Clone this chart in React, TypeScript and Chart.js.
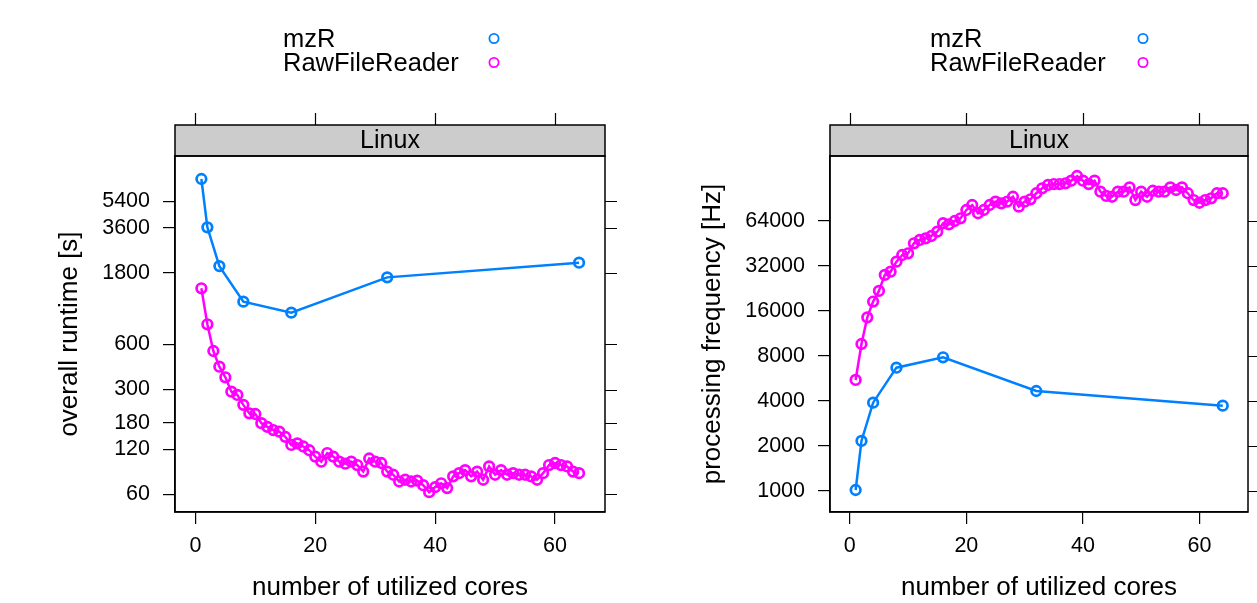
import React, { useEffect, useRef } from "react";
import { Chart, registerables } from "chart.js";

Chart.register(...registerables);

// ---------- data ----------
const seriesNames = ["mzR", "RawFileReader"];
const seriesColors = ["#0080ff", "#ff00ff"];
const stripLabel = "Linux";
const xTitle = "number of utilized cores";

const mzrCores = [1, 2, 4, 8, 16, 32, 64];
const mzrRuntime = [7615, 3624, 1998, 1157, 977, 1680, 2105];
const mzrFreq = [1015, 2160, 3896, 6680, 7840, 4665, 3720];

const rfrCores = [
  1, 2, 3, 4, 5, 6, 7, 8, 9, 10, 11, 12, 13, 14, 15, 16,
  17, 18, 19, 20, 21, 22, 23, 24, 25, 26, 27, 28, 29, 30, 31, 32,
  33, 34, 35, 36, 37, 38, 39, 40, 41, 42, 43, 44, 45, 46, 47, 48,
  49, 50, 51, 52, 53, 54, 55, 56, 57, 58, 59, 60, 61, 62, 63, 64,
];
const rfrRuntime = [
  1420, 817, 542, 426, 362, 290, 276, 237, 208, 206, 179, 169, 161, 157, 145, 128,
  131, 125, 118, 107, 99, 113, 107, 99, 96, 99, 94, 85, 104, 99, 97, 85,
  81, 73, 75, 73, 74, 69, 62, 67, 71, 66, 79, 83, 87, 79, 85, 75,
  92, 81, 87, 81, 83, 81, 81, 79, 75, 83, 94, 97, 94, 92, 85, 83,
];
const rfrFreq = [
  5530, 9620, 14500, 18500, 21800, 27900, 29300, 34200, 37900, 38900, 45400, 47800, 49000, 50800, 54300, 61800,
  60800, 64000, 66700, 75800, 81900, 72100, 75800, 81900, 86200, 84000, 86200, 93000, 79800, 86200, 89400, 98100,
  105900, 111400, 113100, 113100, 114400, 119100, 128000, 119100, 113100, 119100, 100500, 94100, 93000, 100500, 100500, 107500,
  88400, 100500, 93000, 102000, 100500, 100500, 107500, 103200, 107500, 98100, 88400, 84800, 88400, 90800, 98100, 98100,
];

const coreTicks = [0, 20, 40, 60];
const runtimeTicks = [60, 120, 180, 300, 600, 1800, 3600, 5400];
const freqTicks = [1000, 2000, 4000, 8000, 16000, 32000, 64000];

// ---------- layout ----------
const H = 603;
const FONT = "'Liberation Sans', Arial, Helvetica, sans-serif";
Chart.defaults.font.family = FONT;
Chart.defaults.color = "#000";

type PanelCfg = {
  left: number;
  width: number;
  yTitle: string;
  yMin: number;
  yMax: number;
  yTicks: number[];
  mzr: number[];
  rfr: number[];
  axisWidth: number;
  padRight: number;
  yTitlePad: number;
  legendTextX: number;
  legendCircleX: number;
};

const panels: PanelCfg[] = [
  {
    left: 0,
    width: 628,
    yTitle: "overall runtime [s]",
    yMin: 45.7,
    yMax: 10842,
    yTicks: runtimeTicks,
    mzr: mzrRuntime,
    rfr: rfrRuntime,
    axisWidth: 175,
    padRight: 23,
    yTitlePad: 54,
    legendTextX: 283,
    legendCircleX: 494,
  },
  {
    left: 628,
    width: 629,
    yTitle: "processing frequency [Hz]",
    yMin: 723,
    yMax: 174200,
    yTicks: freqTicks,
    mzr: mzrFreq,
    rfr: rfrFreq,
    axisWidth: 202,
    padRight: 9,
    yTitlePad: 69.5,
    legendTextX: 302,
    legendCircleX: 515,
  },
];

const decoPlugin = {
  id: "latticeDeco",
  afterDraw(chart: any, _args: any, opts: any) {
    const { ctx, chartArea: a, scales } = chart;
    ctx.save();
    const stripH = 31;
    const sTop = a.top - stripH;
    // strip
    ctx.fillStyle = "#cccccc";
    ctx.fillRect(a.left, sTop, a.right - a.left, stripH);
    ctx.strokeStyle = "#000";
    ctx.lineWidth = 1.5;
    ctx.strokeRect(a.left, sTop, a.right - a.left, stripH);
    ctx.strokeRect(a.left, a.top, a.right - a.left, a.bottom - a.top);
    ctx.fillStyle = "#000";
    ctx.font = `25px ${FONT}`;
    ctx.textAlign = "center";
    ctx.textBaseline = "middle";
    ctx.fillText(stripLabel, (a.left + a.right) / 2, sTop + stripH / 2 + 1);
    // top ticks
    ctx.lineWidth = 1.2;
    ctx.beginPath();
    for (const t of coreTicks) {
      const x = Math.round(scales.x.getPixelForValue(t)) + 0.5;
      ctx.moveTo(x, sTop - 12);
      ctx.lineTo(x, sTop);
    }
    // right ticks
    for (const t of opts.yTicks as number[]) {
      const y = Math.round(scales.y.getPixelForValue(t)) + 0.5;
      ctx.moveTo(a.right, y);
      ctx.lineTo(a.right + 12, y);
    }
    ctx.stroke();
    // legend
    ctx.font = `25.5px ${FONT}`;
    ctx.textAlign = "left";
    ctx.textBaseline = "middle";
    const ys = [40, 64];
    chart.data.datasets.forEach((ds: any, i: number) => {
      ctx.fillStyle = "#000";
      ctx.fillText(ds.label, opts.legendTextX, ys[i]);
      ctx.beginPath();
      ctx.strokeStyle = ds.borderColor;
      ctx.lineWidth = 1.8;
      ctx.arc(opts.legendCircleX, ys[i] - 1.5, 4.6, 0, Math.PI * 2);
      ctx.stroke();
    });
    ctx.restore();
  },
};

function Panel({ cfg }: { cfg: PanelCfg }) {
  const ref = useRef<HTMLCanvasElement>(null);
  useEffect(() => {
    const mk = (idx: number, xs: number[], ys: number[]) => ({
      label: seriesNames[idx],
      data: xs.map((x, i) => ({ x, y: ys[i] })),
      borderColor: seriesColors[idx],
      backgroundColor: "rgba(0,0,0,0)",
      borderWidth: 2.5,
      pointRadius: 4.8,
      pointBorderWidth: 2.7,
      pointBackgroundColor: "rgba(0,0,0,0)",
      pointBorderColor: seriesColors[idx],
      tension: 0,
      fill: false,
    });
    const tickFont = { size: 21.5, family: FONT };
    const titleFont = { size: 26, family: FONT };
    const chart = new Chart(ref.current as HTMLCanvasElement, {
      type: "line",
      data: {
        datasets: [mk(0, mzrCores, cfg.mzr), mk(1, rfrCores, cfg.rfr)],
      },
      options: {
        responsive: false,
        animation: false,
        devicePixelRatio: 1,
        layout: { padding: { top: 156, right: cfg.padRight, bottom: 0, left: 0 } },
        plugins: {
          legend: { display: false },
          tooltip: { enabled: false },
          latticeDeco: { yTicks: cfg.yTicks, legendTextX: cfg.legendTextX, legendCircleX: cfg.legendCircleX },
        } as any,
        scales: {
          x: {
            type: "linear",
            min: -3.4,
            max: 68.33,
            bounds: "data",
            afterBuildTicks: (s: any) => {
              s.ticks = coreTicks.map((v) => ({ value: v }));
            },
            afterFit: (s: any) => {
              s.height = 91;
            },
            ticks: {
              autoSkip: false,
              maxRotation: 0,
              padding: 9,
              font: tickFont,
              color: "#000",
              callback: (v: any) => String(v),
            },
            grid: {
              display: true,
              drawOnChartArea: false,
              drawTicks: true,
              tickLength: 12,
              color: "#000",
              lineWidth: 1.2,
            },
            border: { display: true, color: "#000", width: 1.5 },
            title: {
              display: true,
              text: xTitle,
              font: titleFont,
              color: "#000",
              padding: { top: 0, bottom: 0 },
            },
          },
          y: {
            type: "logarithmic",
            min: cfg.yMin,
            max: cfg.yMax,
            bounds: "data",
            afterBuildTicks: (s: any) => {
              s.ticks = cfg.yTicks.map((v) => ({ value: v }));
            },
            afterFit: (s: any) => {
              s.width = cfg.axisWidth;
            },
            ticks: {
              autoSkip: false,
              padding: 13,
              font: tickFont,
              color: "#000",
              callback: (v: any) => String(v),
            },
            grid: {
              display: true,
              drawOnChartArea: false,
              drawTicks: true,
              tickLength: 12,
              color: "#000",
              lineWidth: 1.2,
            },
            border: { display: true, color: "#000", width: 1.5 },
            title: {
              display: true,
              text: cfg.yTitle,
              font: titleFont,
              color: "#000",
              padding: { top: cfg.yTitlePad, bottom: 0 },
            },
          },
        },
      } as any,
      plugins: [decoPlugin],
    });
    return () => chart.destroy();
  }, [cfg]);
  return (
    <canvas
      ref={ref}
      width={cfg.width}
      height={H}
      style={{ position: "absolute", left: cfg.left, top: 0, width: cfg.width, height: H }}
    />
  );
}

export default function App() {
  return (
    <div
      style={{
        position: "fixed",
        left: 0,
        top: 0,
        width: 1257,
        height: H,
        background: "#fff",
        overflow: "hidden",
      }}
    >
      {panels.map((p, i) => (
        <Panel key={i} cfg={p} />
      ))}
    </div>
  );
}
